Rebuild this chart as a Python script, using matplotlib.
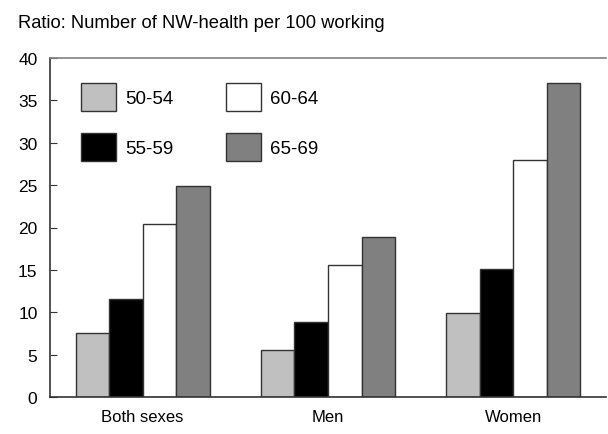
import numpy as np
import matplotlib
matplotlib.use('Agg')
from matplotlib import pyplot as plt

plt.rcParams['font.family'] = ['Liberation Sans', 'DejaVu Sans']

groups = ['Both sexes', 'Men', 'Women']
ages = ['50-54', '55-59', '60-64', '65-69']
r_50_54 = [7.6, 5.5, 9.9]
r_55_59 = [11.6, 8.9, 15.1]
r_60_64 = [20.4, 15.6, 28.0]
r_65_69 = [24.9, 18.9, 37.0]
colors = ['#c0c0c0', '#000000', '#ffffff', '#808080']

series = [r_50_54, r_55_59, r_60_64, r_65_69]

fig = plt.figure(figsize=(6.08, 4.35), dpi=100)
ax = fig.add_axes([50/608, 1-398/435, 556/608, 339/435])

x = np.arange(len(groups))
w = 0.181
for i, (vals, c, lab) in enumerate(zip(series, colors, ages)):
    ax.bar(x + (i - 1.5)*w, vals, w, color=c, edgecolor='#333333', linewidth=1, label=lab)

ax.set_xlim(-0.5, 2.5)
ax.set_ylim(0, 40)
ax.set_yticks(range(0, 41, 5))
ax.set_xticks(x)
ax.set_xticklabels(groups, fontsize=12)
ax.tick_params(axis='y', direction='in', length=5, pad=9, labelsize=12.5, color='#333333')
ax.tick_params(axis='x', length=0, pad=9)
ax.spines['right'].set_visible(False)
ax.spines['top'].set_color('#808080')
ax.spines['top'].set_linewidth(1.2)
for s in ['left', 'bottom']:
    ax.spines[s].set_color('#333333')
    ax.spines[s].set_linewidth(1.2)

fs = 13.5
ax.legend(ncol=2, loc='upper left', bbox_to_anchor=(31/556, 1-25/339), frameon=False,
          borderpad=0, borderaxespad=0, handlelength=1.87, handleheight=1.92,
          labelspacing=1.16, columnspacing=2.83, handletextpad=0.48, fontsize=fs)

fig.text(18/608, 1-24/435, 'Ratio: Number of NW-health per 100 working', fontsize=13.2, va='center')

plt.savefig('out.png', dpi=100)
